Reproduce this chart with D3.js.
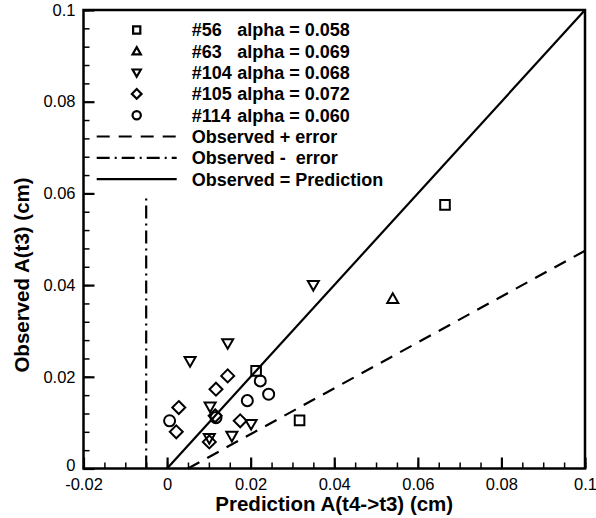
<!DOCTYPE html>
<html>
<head>
<meta charset="utf-8">
<script src="https://cdn.jsdelivr.net/npm/d3@7"></script>
<style>
  html, body { margin: 0; padding: 0; background: #fff; }
  svg { display: block; }
  text { font-family: "Liberation Sans", Arial, sans-serif; fill: #000; }
</style>
</head>
<body>
<svg id="chart" width="596" height="518"></svg>
<script>
// Observed vs predicted amplitude, one array per run
const run56  = [{x: 0.0665, y: 0.0575}, {x: 0.0213, y: 0.0213}, {x: 0.0317, y: 0.0105}];
const run63  = [{x: 0.0540, y: 0.0370}];
const run104 = [{x: 0.0350, y: 0.0400}, {x: 0.0145, y: 0.0273}, {x: 0.0055, y: 0.0234},
                {x: 0.0103, y: 0.0135}, {x: 0.0201, y: 0.0097}, {x: 0.0155, y: 0.0071},
                {x: 0.0101, y: 0.0066}];
const run105 = [{x: 0.0145, y: 0.0202}, {x: 0.0117, y: 0.0173}, {x: 0.0028, y: 0.0133},
                {x: 0.0115, y: 0.0115}, {x: 0.0175, y: 0.0104}, {x: 0.0022, y: 0.0080},
                {x: 0.0101, y: 0.0058}];
const run114 = [{x: 0.0223, y: 0.0191}, {x: 0.0243, y: 0.0162}, {x: 0.0192, y: 0.0148},
                {x: 0.0117, y: 0.0111}, {x: 0.0006, y: 0.0104}];

// Reference lines
const linePlusError  = [{x: 0.005, y: 0}, {x: 0.1, y: 0.0475}];
const lineMinusError = [{x: -0.005, y: 0}, {x: -0.005, y: 0.06}];
const lineEqual      = [{x: 0, y: 0}, {x: 0.1, y: 0.1}];

const runNames  = ["#56", "#63", "#104", "#105", "#114"];
const runAlphas = ["alpha = 0.058", "alpha = 0.069", "alpha = 0.068", "alpha = 0.072", "alpha = 0.060"];
const lineNames = ["Observed + error", "Observed -  error", "Observed = Prediction"];

const xMajorTicks = [-0.02, 0, 0.02, 0.04, 0.06, 0.08, 0.1];
const yMajorTicks = [0, 0.02, 0.04, 0.06, 0.08, 0.1];
const xTitle = "Prediction A(t4->t3) (cm)";
const yTitle = "Observed A(t3) (cm)";

const svg = d3.select("#chart");
const plotL = 83.5, plotR = 585, plotT = 10, plotB = 468.5;

const x = d3.scaleLinear().domain([-0.02, 0.1]).range([plotL, plotR]);
const y = d3.scaleLinear().domain([0, 0.1]).range([plotB, plotT]);

const fmt = d => d === 0 ? "0" : String(+d.toFixed(3));

// Minor ticks
const xMinor = d3.range(-0.02, 0.1001, 0.005).map(v => +v.toFixed(3));
const yMinor = d3.range(0, 0.1001, 0.004).map(v => +v.toFixed(3));

svg.append("g")
  .attr("transform", `translate(0,${plotB})`)
  .call(d3.axisBottom(x).tickValues(xMinor).tickSize(-6).tickFormat(""))
  .call(g => g.select(".domain").remove())
  .call(g => g.selectAll("line").attr("stroke", "#000").attr("stroke-width", 1.5));

svg.append("g")
  .attr("transform", `translate(${plotL},0)`)
  .call(d3.axisLeft(y).tickValues(yMinor).tickSize(-6).tickFormat(""))
  .call(g => g.select(".domain").remove())
  .call(g => g.selectAll("line").attr("stroke", "#000").attr("stroke-width", 1.5));

// Major ticks and labels
svg.append("g")
  .attr("transform", `translate(0,${plotB})`)
  .call(d3.axisBottom(x).tickValues(xMajorTicks).tickSize(-11).tickPadding(10).tickFormat(fmt))
  .call(g => g.select(".domain").remove())
  .call(g => g.selectAll("line").attr("stroke", "#000").attr("stroke-width", 2.2))
  .call(g => g.selectAll("text").attr("font-size", 16.5).attr("font-family", "Liberation Sans, Arial, sans-serif").attr("fill", "#000"));

svg.append("g")
  .attr("transform", `translate(${plotL},0)`)
  .call(d3.axisLeft(y).tickValues(yMajorTicks).tickSize(-11).tickPadding(8).tickFormat(fmt))
  .call(g => g.select(".domain").remove())
  .call(g => g.selectAll("line").attr("stroke", "#000").attr("stroke-width", 2.2))
  .call(g => g.selectAll("text").attr("font-size", 16.5).attr("font-family", "Liberation Sans, Arial, sans-serif").attr("fill", "#000")
    .attr("dy", d => d === 0 ? "0.1em" : "0.32em"));

// Reference lines
const lineGen = d3.line().x(d => x(d.x)).y(d => y(d.y));
svg.append("path").datum(lineEqual).attr("d", lineGen)
  .attr("fill", "none").attr("stroke", "#000").attr("stroke-width", 2.2);
svg.append("path").datum(linePlusError).attr("d", lineGen)
  .attr("fill", "none").attr("stroke", "#000").attr("stroke-width", 2.2)
  .attr("stroke-dasharray", "13,9");
svg.append("path").datum(lineMinusError).attr("d", lineGen)
  .attr("fill", "none").attr("stroke", "#000").attr("stroke-width", 2.2)
  .attr("stroke-dasharray", "13,5,2,5");

// Marker shapes
const shapes = [
  s => `M${-s},${-s}H${s}V${s}H${-s}Z`,
  s => { const h = s * 1.15; return `M0,${-h}L${h},${h * 0.75}L${-h},${h * 0.75}Z`; },
  s => { const h = s * 1.15; return `M0,${h}L${h},${-h * 0.75}L${-h},${-h * 0.75}Z`; },
  s => { const h = s * 1.35; return `M0,${-h}L${h},0L0,${h}L${-h},0Z`; },
  s => { const r = s * 1.15; return `M${r},0A${r},${r} 0 1,1 ${-r},0A${r},${r} 0 1,1 ${r},0Z`; }
];
const runs = [run56, run63, run104, run105, run114];

runs.forEach((pts, i) => {
  svg.append("g").selectAll("path").data(pts).join("path")
    .attr("transform", d => `translate(${x(d.x)},${y(d.y)})`)
    .attr("d", shapes[i](4.8))
    .attr("fill", "none").attr("stroke", "#000").attr("stroke-width", 2);
});

// Frame
svg.append("rect")
  .attr("x", plotL).attr("y", plotT)
  .attr("width", plotR - plotL).attr("height", plotB - plotT)
  .attr("fill", "none").attr("stroke", "#000").attr("stroke-width", 2.5);

// Legend
const lgMarkX = 136.7, lgTextX = 191.7, lgAlphaX = 237.3, lgY0 = 30, lgDy = 21.3;
const legend = svg.append("g");
runNames.forEach((name, i) => {
  const cy = lgY0 + i * lgDy;
  legend.append("path")
    .attr("transform", `translate(${lgMarkX},${cy})`)
    .attr("d", shapes[i](3.6))
    .attr("fill", "none").attr("stroke", "#000").attr("stroke-width", 2.2);
  legend.append("text").attr("x", lgTextX).attr("y", cy).attr("dy", "0.36em")
    .attr("font-size", 18).attr("font-weight", "bold").text(name);
  legend.append("text").attr("x", lgAlphaX).attr("y", cy).attr("dy", "0.36em")
    .attr("font-size", 18).attr("font-weight", "bold").text(runAlphas[i]);
});
const lgDash = ["13,9", "13,5,2,5", null];
lineNames.forEach((name, i) => {
  const cy = lgY0 + (runNames.length + i) * lgDy;
  const ln = legend.append("line")
    .attr("x1", 96.7).attr("x2", 176.7).attr("y1", cy).attr("y2", cy)
    .attr("stroke", "#000").attr("stroke-width", 2.2);
  if (lgDash[i]) ln.attr("stroke-dasharray", lgDash[i]);
  legend.append("text").attr("x", lgTextX).attr("y", cy).attr("dy", "0.36em")
    .attr("font-size", 18).attr("font-weight", "bold")
    .style("white-space", "pre").text(name);
});

// Axis titles
svg.append("text")
  .attr("x", (plotL + plotR) / 2).attr("y", 504).attr("dy", "0.36em")
  .attr("text-anchor", "middle").attr("font-size", 20.5).attr("font-weight", "bold")
  .text(xTitle);
svg.append("text")
  .attr("transform", `translate(22,275) rotate(-90)`).attr("dy", "0.36em")
  .attr("text-anchor", "middle").attr("font-size", 20.5).attr("font-weight", "bold")
  .text(yTitle);
</script>
</body>
</html>
